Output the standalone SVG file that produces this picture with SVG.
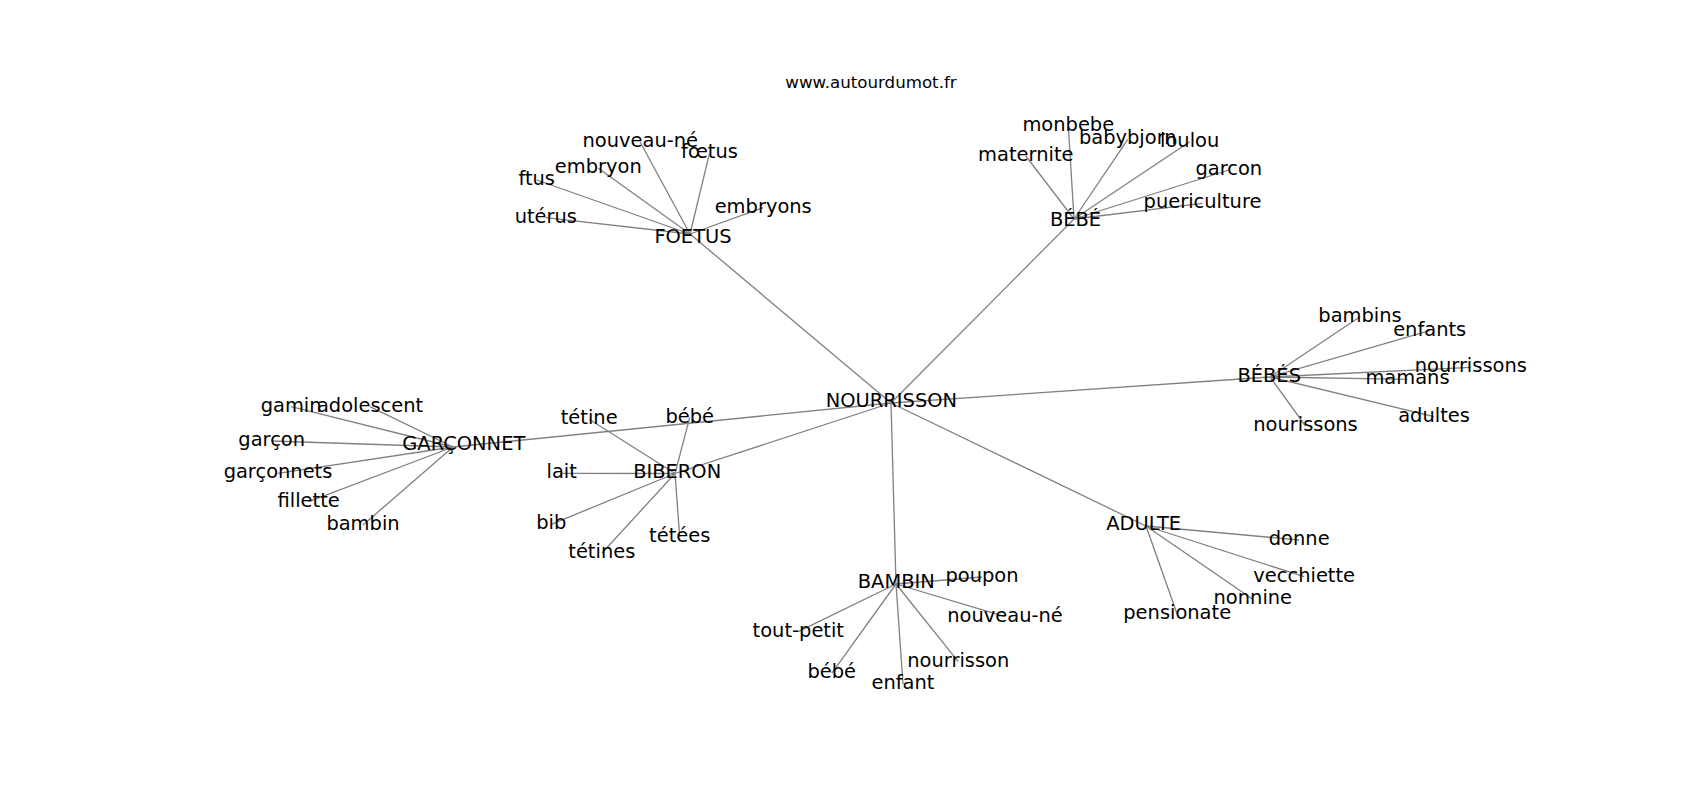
<svg xmlns="http://www.w3.org/2000/svg" width="1700" height="800" viewBox="0 0 1700 800">
<style>
.e line{stroke:#808080;stroke-width:1.3;fill:none}
text{font-family:"DejaVu Sans","Liberation Sans",sans-serif;font-size:19.44px;fill:#000;text-anchor:middle}
.title{font-size:16.67px}
</style>
<rect width="1700" height="800" fill="#fff"/>
<text class="title" x="871" y="87.5">www.autourdumot.fr</text>
<g class="e" id="connectors">
<line x1="891" y1="403" x2="690" y2="234"/>
<line x1="891" y1="403" x2="1074" y2="219"/>
<line x1="891" y1="403" x2="1270" y2="377"/>
<line x1="891" y1="403" x2="1146" y2="526"/>
<line x1="891" y1="403" x2="896" y2="584"/>
<line x1="891" y1="403" x2="675" y2="473.5"/>
<line x1="891" y1="403" x2="453" y2="447"/>
<line x1="690" y1="234" x2="640.3" y2="142.3"/>
<line x1="690" y1="234" x2="709.5" y2="153.3"/>
<line x1="690" y1="234" x2="598.3" y2="168.3"/>
<line x1="690" y1="234" x2="536.7" y2="180"/>
<line x1="690" y1="234" x2="545.8" y2="217.7"/>
<line x1="690" y1="234" x2="763.2" y2="207.7"/>
<line x1="1074" y1="219" x2="1068.3" y2="125.7"/>
<line x1="1074" y1="219" x2="1127.8" y2="139.3"/>
<line x1="1074" y1="219" x2="1189.7" y2="141.7"/>
<line x1="1074" y1="219" x2="1025.8" y2="156"/>
<line x1="1074" y1="219" x2="1228.8" y2="170"/>
<line x1="1074" y1="219" x2="1202.5" y2="203.3"/>
<line x1="1270" y1="377" x2="1360" y2="316.7"/>
<line x1="1270" y1="377" x2="1429.7" y2="330.7"/>
<line x1="1270" y1="377" x2="1470.8" y2="367.3"/>
<line x1="1270" y1="377" x2="1407.5" y2="379.3"/>
<line x1="1270" y1="377" x2="1434" y2="416.7"/>
<line x1="1270" y1="377" x2="1305.5" y2="426"/>
<line x1="453" y1="447" x2="291.1" y2="406.7"/>
<line x1="453" y1="447" x2="370" y2="406.7"/>
<line x1="453" y1="447" x2="271.7" y2="441"/>
<line x1="453" y1="447" x2="278" y2="473.3"/>
<line x1="453" y1="447" x2="308.7" y2="501.7"/>
<line x1="453" y1="447" x2="363" y2="525"/>
<line x1="675" y1="473.5" x2="589.2" y2="419.3"/>
<line x1="675" y1="473.5" x2="689.7" y2="417.7"/>
<line x1="675" y1="473.5" x2="561.7" y2="473.3"/>
<line x1="675" y1="473.5" x2="551.3" y2="524.3"/>
<line x1="675" y1="473.5" x2="679.7" y2="536.7"/>
<line x1="675" y1="473.5" x2="601.8" y2="553.3"/>
<line x1="896" y1="584" x2="982" y2="577"/>
<line x1="896" y1="584" x2="1005" y2="616.7"/>
<line x1="896" y1="584" x2="798.3" y2="631.7"/>
<line x1="896" y1="584" x2="958.3" y2="661.7"/>
<line x1="896" y1="584" x2="831.7" y2="673.3"/>
<line x1="896" y1="584" x2="903" y2="684"/>
<line x1="1146" y1="526" x2="1299.2" y2="540"/>
<line x1="1146" y1="526" x2="1304.2" y2="576.7"/>
<line x1="1146" y1="526" x2="1252.8" y2="599.3"/>
<line x1="1146" y1="526" x2="1177.2" y2="614.3"/>
</g>
<g id="n-nourrisson"><text x="891.4" y="407">NOURRISSON</text></g>
<g id="n-foetus"><text x="693" y="242.5">FOETUS</text></g>
<g id="n-bebe"><text x="1075.5" y="225.7">BÉBÉ</text></g>
<g id="n-bebes"><text x="1269.2" y="381.7">BÉBÉS</text></g>
<g id="n-garconnet"><text x="463.8" y="450">GARÇONNET</text></g>
<g id="n-biberon"><text x="677.2" y="478.3">BIBERON</text></g>
<g id="n-bambin"><text x="896.3" y="588.3">BAMBIN</text></g>
<g id="n-adulte"><text x="1143.7" y="530">ADULTE</text></g>
<g id="n-f-nouveau-ne"><text x="640.3" y="147.3">nouveau-né</text></g>
<g id="n-f-foetus"><text x="709.5" y="158.3">fœtus</text></g>
<g id="n-f-embryon"><text x="598.3" y="173.3">embryon</text></g>
<g id="n-f-ftus"><text x="536.7" y="185">ftus</text></g>
<g id="n-f-uterus"><text x="545.8" y="222.7">utérus</text></g>
<g id="n-f-embryons"><text x="763.2" y="212.7">embryons</text></g>
<g id="n-b-monbebe"><text x="1068.3" y="130.7">monbebe</text></g>
<g id="n-b-babybjorn"><text x="1127.8" y="144.3">babybjorn</text></g>
<g id="n-b-loulou"><text x="1189.7" y="146.7">loulou</text></g>
<g id="n-b-maternite"><text x="1025.8" y="161">maternite</text></g>
<g id="n-b-garcon"><text x="1228.8" y="175">garcon</text></g>
<g id="n-b-puericulture"><text x="1202.5" y="208.3">puericulture</text></g>
<g id="n-s-bambins"><text x="1360" y="321.7">bambins</text></g>
<g id="n-s-enfants"><text x="1429.7" y="335.7">enfants</text></g>
<g id="n-s-nourrissons"><text x="1470.8" y="372.3">nourrissons</text></g>
<g id="n-s-mamans"><text x="1407.5" y="384.3">mamans</text></g>
<g id="n-s-adultes"><text x="1434" y="421.7">adultes</text></g>
<g id="n-s-nourissons"><text x="1305.5" y="431">nourissons</text></g>
<g id="n-g-gamin"><text x="291.1" y="411.7">gamin</text></g>
<g id="n-g-adolescent"><text x="370" y="411.7">adolescent</text></g>
<g id="n-g-garcon"><text x="271.7" y="446">garçon</text></g>
<g id="n-g-garconnets"><text x="278" y="478.3">garçonnets</text></g>
<g id="n-g-fillette"><text x="308.7" y="506.7">fillette</text></g>
<g id="n-g-bambin"><text x="363" y="530">bambin</text></g>
<g id="n-i-tetine"><text x="589.2" y="424.3">tétine</text></g>
<g id="n-i-bebe"><text x="689.7" y="422.7">bébé</text></g>
<g id="n-i-lait"><text x="561.7" y="478.3">lait</text></g>
<g id="n-i-bib"><text x="551.3" y="529.3">bib</text></g>
<g id="n-i-tetees"><text x="679.7" y="541.7">tétées</text></g>
<g id="n-i-tetines"><text x="601.8" y="558.3">tétines</text></g>
<g id="n-m-poupon"><text x="982" y="581.5">poupon</text></g>
<g id="n-m-nouveau-ne"><text x="1005" y="621.7">nouveau-né</text></g>
<g id="n-m-tout-petit"><text x="798.3" y="636.7">tout-petit</text></g>
<g id="n-m-nourrisson"><text x="958.3" y="666.7">nourrisson</text></g>
<g id="n-m-bebe"><text x="831.7" y="678.3">bébé</text></g>
<g id="n-m-enfant"><text x="903" y="689">enfant</text></g>
<g id="n-a-donne"><text x="1299.2" y="545">donne</text></g>
<g id="n-a-vecchiette"><text x="1304.2" y="581.7">vecchiette</text></g>
<g id="n-a-nonnine"><text x="1252.8" y="604.3">nonnine</text></g>
<g id="n-a-pensionate"><text x="1177.2" y="619.3">pensionate</text></g>
</svg>
